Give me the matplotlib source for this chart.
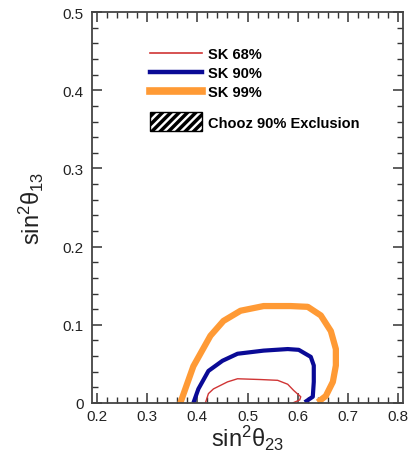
import numpy as np
import matplotlib
matplotlib.use('Agg')
import matplotlib.pyplot as plt
from matplotlib.lines import Line2D
from matplotlib.patches import Patch
from matplotlib.ticker import MultipleLocator

plt.rcParams['font.family'] = ['Liberation Sans', 'DejaVu Sans']
plt.rcParams['mathtext.default'] = 'regular'
plt.rcParams['hatch.linewidth'] = 2.5

# contour points (sin^2 theta23, sin^2 theta13)
sk68_x = [0.416, 0.422, 0.432, 0.46, 0.48, 0.526, 0.56, 0.58, 0.592, 0.606, 0.604, 0.59]
sk68_y = [0.0, 0.012, 0.018, 0.027, 0.031, 0.030, 0.029, 0.024, 0.016, 0.008, 0.004, 0.0]

sk90_x = [0.392, 0.402, 0.422, 0.45, 0.48, 0.532, 0.58, 0.602, 0.626, 0.632, 0.632, 0.63, 0.614]
sk90_y = [0.0, 0.018, 0.041, 0.054, 0.063, 0.067, 0.069, 0.068, 0.059, 0.048, 0.027, 0.008, 0.001]

sk99_x = [0.366, 0.392, 0.426, 0.452, 0.486, 0.532, 0.586, 0.62, 0.646, 0.666, 0.676, 0.676, 0.67, 0.656, 0.64]
sk99_y = [0.0, 0.047, 0.086, 0.105, 0.118, 0.124, 0.124, 0.123, 0.112, 0.092, 0.069, 0.048, 0.027, 0.009, 0.001]

labels = ['SK 68%', 'SK 90%', 'SK 99%']
colors = ['#d03535', '#0a0a96', '#ff9a35']
widths = [1.0, 3.0, 4.5]

fig = plt.figure(figsize=(4.08, 4.52), dpi=100)
ax = fig.add_axes([0.2255, 0.1062, 0.7625, 0.8648])

ax.plot(sk99_x, sk99_y, color=colors[2], lw=widths[2], solid_capstyle='butt')
ax.plot(sk90_x, sk90_y, color=colors[1], lw=widths[1], solid_capstyle='butt')
ax.plot(sk68_x, sk68_y, color=colors[0], lw=widths[0], solid_capstyle='butt')

ax.set_xlim(0.19, 0.81)
ax.set_ylim(0, 0.5)
ax.xaxis.set_minor_locator(MultipleLocator(0.02))
ax.yaxis.set_minor_locator(MultipleLocator(0.02))
ax.set_xticks([0.2, 0.3, 0.4, 0.5, 0.6, 0.7, 0.8])
ax.set_xticklabels(['0.2', '0.3', '0.4', '0.5', '0.6', '0.7', '0.8'])
ax.set_yticks([0, 0.1, 0.2, 0.3, 0.4, 0.5])
ax.set_yticklabels(['0', '0.1', '0.2', '0.3', '0.4', '0.5'])
ax.tick_params(which='both', direction='in', top=True, right=True, color='#333333', labelsize=11, labelcolor='#222222')
ax.tick_params(which='major', length=7, width=1.1)
ax.tick_params(which='minor', length=4, width=1.0)
ax.tick_params(axis='y', pad=6)
ax.tick_params(axis='x', pad=4)
for s in ax.spines.values():
    s.set_linewidth(1.3)
    s.set_color('#444444')

ax.set_xlabel('sin$^2$θ$_{23}$', fontsize=17, color='#222222', labelpad=0)
ax.set_ylabel('sin$^2$θ$_{13}$', fontsize=17, color='#222222', labelpad=12)

handles = [Line2D([], [], color=c, lw=w) for c, w in zip(colors, [1.2, 3.2, 5.5])]
leg1 = ax.legend(handles, labels, loc='upper left', bbox_to_anchor=(0.145, 0.944), frameon=False,
                 handlelength=3.56, handletextpad=0.4, labelspacing=0.35,
                 prop={'weight': 'bold', 'size': 10.5})
ax.add_artist(leg1)
hatch = Patch(facecolor='white', edgecolor='black', hatch='////', lw=1.0)
ax.legend([hatch], ['Chooz 90% Exclusion'], loc='upper left', bbox_to_anchor=(0.145, 0.777), frameon=False,
          handlelength=3.56, handleheight=1.6, handletextpad=0.4,
          prop={'weight': 'bold', 'size': 10.5})

plt.savefig('out.png', dpi=100)
